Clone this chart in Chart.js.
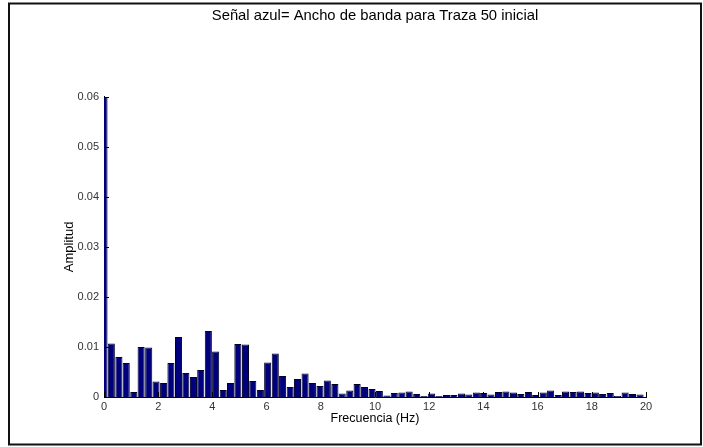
<!DOCTYPE html>
<html lang="es">
<head>
<meta charset="utf-8">
<title>Ancho de banda</title>
<script src="https://cdn.jsdelivr.net/npm/chart.js@4/dist/chart.umd.min.js"></script>
<style>
    html, body { margin: 0; padding: 0; background: #fff; }
    #wrap { position: relative; width: 703px; height: 447px; }
</style>
</head>
<body>
<div id="wrap"><canvas id="spectrumChart"></canvas></div>
<script>
// frequency bins (Hz)
const frecuencias = [
    0, 0.27, 0.55, 0.82, 1.10, 1.37, 1.65, 1.92, 2.20, 2.47,
    2.75, 3.02, 3.30, 3.57, 3.85, 4.12, 4.40, 4.67, 4.94, 5.22,
    5.49, 5.77, 6.04, 6.32, 6.59, 6.87, 7.14, 7.42, 7.69, 7.97,
    8.24, 8.52, 8.79, 9.07, 9.34, 9.61, 9.89, 10.16, 10.44, 10.71,
    10.99, 11.26, 11.54, 11.81, 12.09, 12.36, 12.64, 12.91, 13.19, 13.46,
    13.74, 14.01, 14.28, 14.56, 14.83, 15.11, 15.38, 15.66, 15.93, 16.21,
    16.48, 16.76, 17.03, 17.31, 17.58, 17.86, 18.13, 18.40, 18.68, 18.95,
    19.23, 19.50, 19.78
];

// spectrum amplitude per bin
const amplitudes = [
    0.0600, 0.0107, 0.0080, 0.0068, 0.0010, 0.0100, 0.0099, 0.0031, 0.0028, 0.0068,
    0.0120, 0.0048, 0.0040, 0.0054, 0.0132, 0.0091, 0.0014, 0.0028, 0.0106, 0.0105,
    0.0032, 0.0014, 0.0069, 0.0087, 0.0042, 0.0020, 0.0036, 0.0047, 0.0028, 0.0022,
    0.0033, 0.0026, 0.0007, 0.0013, 0.0026, 0.0020, 0.0016, 0.0012, 0.0003, 0.0008,
    0.0009, 0.0011, 0.0006, 0.0002, 0.0007, 0.0002, 0.0004, 0.0004, 0.0007, 0.0005,
    0.0009, 0.0008, 0.0005, 0.0010, 0.0011, 0.0009, 0.0006, 0.0010, 0.0004, 0.0009,
    0.0013, 0.0004, 0.0011, 0.0010, 0.0011, 0.0008, 0.0009, 0.0006, 0.0008, 0.0002,
    0.0009, 0.0006, 0.0005
];

const xTicks = ['0', '2', '4', '6', '8', '10', '12', '14', '16', '18', '20'];
const yTicks = ['0', '0.01', '0.02', '0.03', '0.04', '0.05', '0.06'];

const FONT = '"Liberation Sans", Arial, sans-serif';

// white page with a thin frame around the figure
const framePlugin = {
    id: 'frame',
    beforeDraw(chart) {
        const c = chart.ctx;
        c.save();
        c.fillStyle = '#fff';
        c.fillRect(0, 0, chart.width, chart.height);
        c.strokeStyle = '#111';
        c.lineWidth = 2;
        c.strokeRect(9, 3.5, 692, 441);
        c.restore();
    }
};

// ticks pointing into the plot area
const inwardTicks = {
    id: 'inwardTicks',
    afterDatasetsDraw(chart) {
        const c = chart.ctx;
        const area = chart.chartArea;
        const xs = chart.scales.x;
        const ys = chart.scales.y;
        c.save();
        c.strokeStyle = '#000';
        c.lineWidth = 1;
        c.beginPath();
        xs.ticks.forEach(t => {
            const px = Math.round(xs.getPixelForValue(t.value)) + 0.5;
            c.moveTo(px, area.bottom);
            c.lineTo(px, area.bottom - 5);
        });
        ys.ticks.forEach(t => {
            const py = Math.round(ys.getPixelForValue(t.value)) + 0.5;
            c.moveTo(area.left, py);
            c.lineTo(area.left + 5, py);
        });
        c.stroke();
        c.restore();
    }
};

document.addEventListener('DOMContentLoaded', function () {
    const ctx = document.getElementById('spectrumChart').getContext('2d');

    new Chart(ctx, {
        type: 'bar',
        data: {
            datasets: [{
                label: 'Amplitud',
                data: frecuencias.map((f, i) => ({ x: f, y: amplitudes[i] })),
                backgroundColor: '#00007c',
                borderColor: '#000028',
                borderWidth: 1,
                barPercentage: 0.97,
                categoryPercentage: 1,
                clip: 0
            }]
        },
        options: {
            responsive: true,
            maintainAspectRatio: false,
            animation: false,
            layout: {
                padding: { left: 60, right: 57, top: 0, bottom: 20 }
            },
            plugins: {
                legend: { display: false },
                tooltip: { enabled: false },
                title: {
                    display: true,
                    fullSize: false,
                    text: 'Señal azul= Ancho de banda para Traza 50 inicial',
                    color: '#000',
                    font: { family: FONT, size: 14.8, weight: 'normal' },
                    padding: { top: 7, bottom: 72 }
                }
            },
            scales: {
                x: {
                    type: 'linear',
                    min: 0,
                    max: 20,
                    offset: false,
                    grid: { display: false, drawTicks: false },
                    border: { display: true, color: '#000', width: 1 },
                    ticks: {
                        stepSize: 2,
                        padding: 3,
                        maxRotation: 0,
                        color: '#333',
                        font: { family: FONT, size: 11 },
                        callback: (v, i) => xTicks[i]
                    },
                    title: {
                        display: true,
                        text: 'Frecuencia (Hz)',
                        color: '#000',
                        font: { family: FONT, size: 12.5 },
                        padding: { top: 0, bottom: 1 }
                    },
                    afterFit: (scale) => { scale.height = 30; }
                },
                y: {
                    min: 0,
                    max: 0.06,
                    grid: { display: false, drawTicks: false },
                    border: { display: true, color: '#000', width: 1 },
                    ticks: {
                        stepSize: 0.01,
                        padding: 5,
                        color: '#333',
                        font: { family: FONT, size: 11 },
                        callback: (v, i) => yTicks[i]
                    },
                    title: {
                        display: true,
                        text: 'Amplitud',
                        color: '#000',
                        font: { family: FONT, size: 13 },
                        padding: { top: 2, bottom: 0 }
                    },
                    afterFit: (scale) => { scale.width = 44; }
                }
            }
        },
        plugins: [framePlugin, inwardTicks]
    });
});
</script>
</body>
</html>
